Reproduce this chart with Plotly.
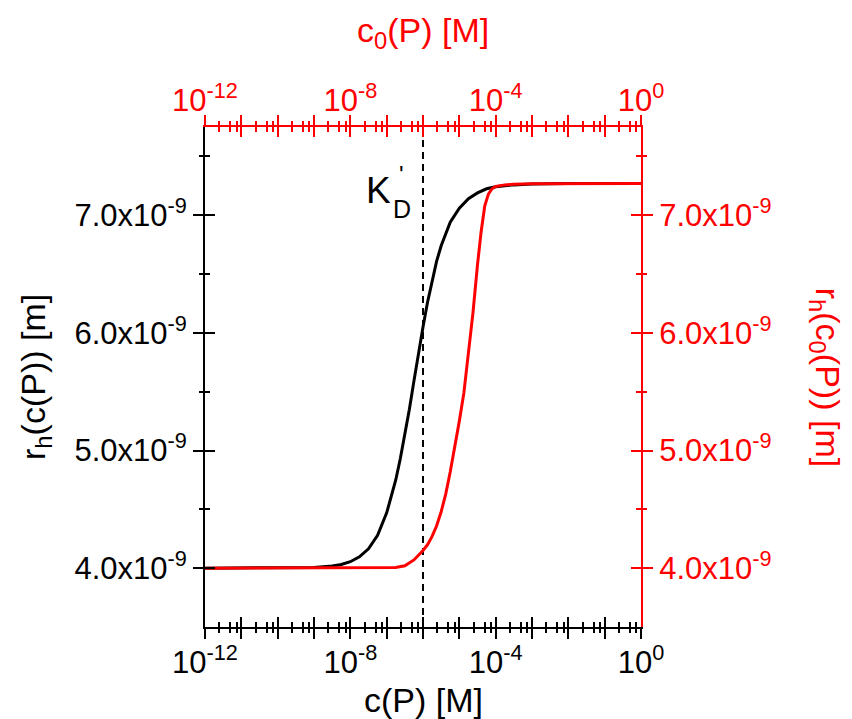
import plotly.graph_objects as go

# ---------------- data ----------------
# black curve: r_h(c(P)) vs c(P)   (x stored as log10 of concentration in M)
logc_black = [-12, -10, -9, -8.5, -8.25, -8.0, -7.75, -7.5, -7.25, -7.0, -6.875, -6.75,
              -6.625, -6.5, -6.375, -6.25, -6.125, -6.0, -5.875, -5.75, -5.625, -5.5,
              -5.25, -5.0, -4.75, -4.5, -4.25, -4.0, -3.5, -3.0, -2.0, 0.0]
r_black = [4.000e-9, 4.001e-9, 4.006e-9, 4.018e-9, 4.031e-9, 4.055e-9, 4.096e-9, 4.165e-9,
           4.280e-9, 4.470e-9, 4.600e-9, 4.750e-9, 4.930e-9, 5.130e-9, 5.350e-9, 5.590e-9,
           5.830e-9, 6.050e-9, 6.260e-9, 6.450e-9, 6.610e-9, 6.740e-9, 6.940e-9, 7.060e-9,
           7.140e-9, 7.190e-9, 7.225e-9, 7.242e-9, 7.258e-9, 7.265e-9, 7.270e-9, 7.270e-9]

# red curve: r_h(c0(P)) vs c0(P)
logc_red = [-12, -8, -7.0, -6.75, -6.5, -6.25, -6.0, -5.875, -5.75, -5.625, -5.5, -5.375,
            -5.25, -5.125, -5.0, -4.875, -4.75, -4.625, -4.5, -4.4, -4.3, -4.2, -4.1,
            -4.0, -3.75, -3.5, -3.0, -2.0, 0.0]
r_red = [4.000e-9, 4.000e-9, 4.002e-9, 4.006e-9, 4.020e-9, 4.070e-9, 4.150e-9, 4.200e-9,
         4.270e-9, 4.360e-9, 4.480e-9, 4.630e-9, 4.820e-9, 5.030e-9, 5.250e-9, 5.490e-9,
         5.810e-9, 6.170e-9, 6.580e-9, 6.860e-9, 7.080e-9, 7.180e-9, 7.225e-9, 7.245e-9,
         7.258e-9, 7.264e-9, 7.268e-9, 7.270e-9, 7.270e-9]

# K'_D marker
kd_value = 1e-6

# ticks
x_major = [1e-12, 1e-11, 1e-10, 1e-9, 1e-8, 1e-7, 1e-6, 1e-5, 1e-4, 1e-3, 1e-2, 1e-1, 1.0]
x_text = ["10<sup>-12</sup>", "", "", "", "10<sup>-8</sup>", "", "", "",
          "10<sup>-4</sup>", "", "", "", "10<sup>0</sup>"]
x_minor_mult = [2.5, 5.0, 7.5]
y_major = [4.0e-9, 5.0e-9, 6.0e-9, 7.0e-9]
y_text = ["4.0x10<sup>-9</sup>", "5.0x10<sup>-9</sup>", "6.0x10<sup>-9</sup>", "7.0x10<sup>-9</sup>"]
y_minor = [4.5e-9, 5.5e-9, 6.5e-9, 7.5e-9]

x_range = [-12, 0]
y_range = [3.5e-9, 7.75e-9]

x_minor = [m * d for d in x_major[:-1] for m in x_minor_mult]

FONT = "Liberation Sans, Arial, sans-serif"
RED = "#ff0000"
BLACK = "#000000"
FS = 31
TFS = 34
MAJ = 10
MIN = 5

fig = go.Figure()

fig.add_trace(go.Scatter(x=[kd_value, kd_value], y=y_range, mode="lines",
                         line=dict(color=BLACK, width=2, dash="7px,5px"),
                         xaxis="x", yaxis="y", showlegend=False, hoverinfo="skip"))
fig.add_trace(go.Scatter(x=[10 ** v for v in logc_black], y=r_black, mode="lines",
                         line=dict(color=BLACK, width=3),
                         xaxis="x", yaxis="y", showlegend=False))
fig.add_trace(go.Scatter(x=[10 ** v for v in logc_red], y=r_red, mode="lines",
                         line=dict(color=RED, width=3),
                         xaxis="x2", yaxis="y2", showlegend=False))

# invisible helper traces so that every tick-only overlay axis gets drawn
for k in range(3, 9):
    fig.add_trace(go.Scatter(x=[kd_value], y=[y_major[0]], mode="markers",
                             marker=dict(opacity=0, size=1),
                             xaxis=f"x{k}", yaxis=f"y{k}",
                             showlegend=False, hoverinfo="skip"))


def xax(color, side, ticks, vals, text, length, main=False, overlay="x", standoff=0):
    d = dict(type="log", range=x_range, side=side, anchor="y",
             showgrid=False, zeroline=False,
             showline=main, linecolor=color, linewidth=2,
             ticks=ticks, ticklen=length, tickwidth=2, tickcolor=color,
             tickvals=vals, showticklabels=main,
             tickfont=dict(family=FONT, size=FS, color=color))
    if main:
        d["ticktext"] = text
        d["ticklabelstandoff"] = standoff
    if overlay:
        d["overlaying"] = overlay
    return d


def yax(color, side, ticks, vals, text, length, main=False, overlay="y"):
    d = dict(type="linear", range=y_range, side=side, anchor="x",
             showgrid=False, zeroline=False,
             showline=main, linecolor=color, linewidth=2,
             ticks=ticks, ticklen=length, tickwidth=2, tickcolor=color,
             tickvals=vals, showticklabels=main,
             tickfont=dict(family=FONT, size=FS, color=color))
    if main:
        d["ticktext"] = text
    if overlay:
        d["overlaying"] = overlay
    return d


annotations = [
    dict(text="c(P) [M]", xref="paper", yref="paper", x=0.5, y=-0.146,
         xanchor="center", yanchor="middle", showarrow=False,
         font=dict(family=FONT, size=TFS, color=BLACK)),
    dict(text="c<sub>0</sub>(P) [M]", xref="paper", yref="paper", x=0.5, y=1.19,
         xanchor="center", yanchor="middle", showarrow=False,
         font=dict(family=FONT, size=TFS, color=RED)),
    dict(text="r<sub>h</sub>(c(P)) [m]", xref="paper", yref="paper", x=-0.39, y=0.5,
         xanchor="center", yanchor="middle", showarrow=False, textangle=-90,
         font=dict(family=FONT, size=TFS, color=BLACK)),
    dict(text="r<sub>h</sub>(c<sub>0</sub>(P)) [m]", xref="paper", yref="paper", x=1.425, y=0.5,
         xanchor="center", yanchor="middle", showarrow=False, textangle=90,
         font=dict(family=FONT, size=TFS, color=RED)),
    dict(text="K", xref="paper", yref="paper", x=0.397, y=0.873,
         xanchor="center", yanchor="middle", showarrow=False,
         font=dict(family=FONT, size=37, color=BLACK)),
    dict(text="D", xref="paper", yref="paper", x=0.451, y=0.836,
         xanchor="center", yanchor="middle", showarrow=False,
         font=dict(family=FONT, size=25, color=BLACK)),
    dict(text="'", xref="paper", yref="paper", x=0.451, y=0.905,
         xanchor="center", yanchor="middle", showarrow=False,
         font=dict(family=FONT, size=24, color=BLACK)),
]

fig.update_layout(
    width=852, height=719,
    margin=dict(l=205, r=211, t=127, b=92, autoexpand=False),
    paper_bgcolor="white", plot_bgcolor="white",
    showlegend=False,
    # bottom axis (black)
    xaxis=xax(BLACK, "bottom", "outside", x_major, x_text, MAJ, main=True, overlay=None,
              standoff=-3),
    xaxis3=xax(BLACK, "bottom", "inside", x_major, None, MAJ),
    xaxis5=xax(BLACK, "bottom", "outside", x_minor, None, MIN),
    xaxis6=xax(BLACK, "bottom", "inside", x_minor, None, MIN),
    # top axis (red)
    xaxis2=xax(RED, "top", "outside", x_major, x_text, MAJ, main=True, standoff=-8),
    xaxis4=xax(RED, "top", "inside", x_major, None, MAJ),
    xaxis7=xax(RED, "top", "outside", x_minor, None, MIN),
    xaxis8=xax(RED, "top", "inside", x_minor, None, MIN),
    # left axis (black)
    yaxis=yax(BLACK, "left", "outside", y_major, y_text, MAJ, main=True, overlay=None),
    yaxis3=yax(BLACK, "left", "inside", y_major, None, MAJ),
    yaxis5=yax(BLACK, "left", "outside", y_minor, None, MIN),
    yaxis6=yax(BLACK, "left", "inside", y_minor, None, MIN),
    # right axis (red)
    yaxis2=yax(RED, "right", "outside", y_major, y_text, MAJ, main=True),
    yaxis4=yax(RED, "right", "inside", y_major, None, MAJ),
    yaxis7=yax(RED, "right", "outside", y_minor, None, MIN),
    yaxis8=yax(RED, "right", "inside", y_minor, None, MIN),
    annotations=annotations,
)

fig.write_html("out.html")
